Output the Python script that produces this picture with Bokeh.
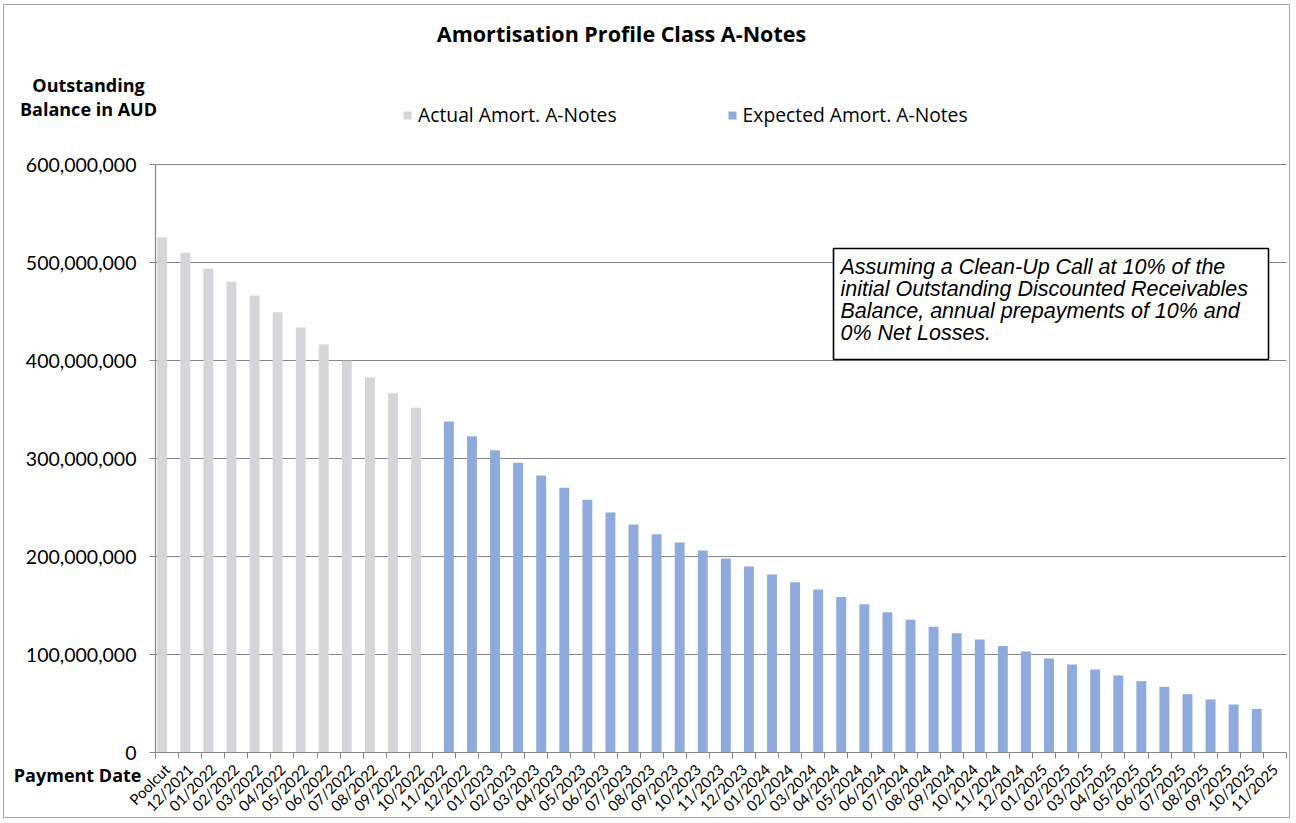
import math
from bokeh.plotting import figure
from bokeh.models import (Range1d, FixedTicker, NumeralTickFormatter, CustomJSTickFormatter,
                          Legend, LegendItem, Label, BoxAnnotation, ColumnDataSource)
from bokeh.transform import dodge
from bokeh.embed import file_html
from bokeh.resources import INLINE

# ---------------- data ----------------
dates = ["Poolcut", "12/2021",
         "01/2022", "02/2022", "03/2022", "04/2022", "05/2022", "06/2022",
         "07/2022", "08/2022", "09/2022", "10/2022", "11/2022", "12/2022",
         "01/2023", "02/2023", "03/2023", "04/2023", "05/2023", "06/2023",
         "07/2023", "08/2023", "09/2023", "10/2023", "11/2023", "12/2023",
         "01/2024", "02/2024", "03/2024", "04/2024", "05/2024", "06/2024",
         "07/2024", "08/2024", "09/2024", "10/2024", "11/2024", "12/2024",
         "01/2025", "02/2025", "03/2025", "04/2025", "05/2025", "06/2025",
         "07/2025", "08/2025", "09/2025", "10/2025", "11/2025"]

actual_dates = dates[0:12]
actual_values = [525.8e6, 509.9e6, 493.9e6, 480.3e6, 466.3e6, 449.3e6,
                 433.7e6, 416.3e6, 399.7e6, 382.7e6, 366.7e6, 351.7e6]

expected_dates = dates[12:48]
expected_values = [337.8e6, 322.8e6, 308.5e6, 295.6e6, 282.7e6, 270.1e6,
                   257.8e6, 244.9e6, 232.7e6, 222.8e6, 214.3e6, 206.1e6,
                   198.0e6, 189.8e6, 181.6e6, 173.8e6, 166.3e6, 158.8e6,
                   151.3e6, 143.2e6, 135.4e6, 128.2e6, 121.8e6, 115.3e6,
                   108.8e6, 103.1e6, 95.9e6, 89.8e6, 84.7e6, 78.6e6,
                   72.8e6, 67.0e6, 59.5e6, 54.1e6, 49.0e6, 44.5e6]

y_ticks = [0, 100e6, 200e6, 300e6, 400e6, 500e6, 600e6]

title_text = "Amortisation Profile Class A-Notes"
note_lines = ["Assuming a Clean-Up Call at 10% of the",
              "initial Outstanding Discounted Receivables",
              "Balance, annual prepayments of 10% and",
              "0% Net Losses."]

# ---------------- layout helpers ----------------
# The frame covers the whole canvas; the axes are pinned with fixed_location,
# so that title, captions and legend can all sit inside the (unclipped) frame.
PLOT_L, PLOT_R, PLOT_T, PLOT_B = 155, 1286, 164, 752   # page pixels of the plot area
OX, OY = 4, 5                                          # page position of the figure
W, H = 1287, 814
N = len(dates)
YMAX = 600e6


def px2x(px):
    return (px - PLOT_L) / (PLOT_R - PLOT_L) * N


def py2y(py):
    return (PLOT_B - py) / (PLOT_B - PLOT_T) * YMAX


pos = {d: i + 0.5 for i, d in enumerate(dates)}
src_a = ColumnDataSource(dict(x=[pos[d] for d in actual_dates], top=actual_values))
src_e = ColumnDataSource(dict(x=[pos[d] for d in expected_dates], top=expected_values))

p = figure(width=W, height=H, output_backend="svg", toolbar_location=None,
           x_range=Range1d(px2x(OX), px2x(OX + W)), y_range=Range1d(py2y(OY + H), py2y(OY)),
           min_border_left=0, min_border_right=0, min_border_top=0, min_border_bottom=0)
p.outline_line_color = None
p.background_fill_color = "white"
p.border_fill_color = "white"
p.xgrid.visible = False
p.ygrid.visible = False

GRAY = "#D5D6DA"
BLUE = "#8FAADC"
AX = "#868686"
FONT = "Open Sans"

# horizontal gridlines across the plot area only
p.segment(x0=0, x1=N, y0=y_ticks, y1=y_ticks, line_color=AX, line_width=1.2, level="underlay")

ra = p.vbar(x=dodge("x", -0.21, range=p.x_range), top="top", width=0.43, bottom=0,
            source=src_a, fill_color=GRAY, line_color=None)
re = p.vbar(x=dodge("x", 0.21, range=p.x_range), top="top", width=0.43, bottom=0,
            source=src_e, fill_color=BLUE, line_color=None)

# y axis
ya = p.yaxis[0]
ya.fixed_location = 0
ya.bounds = (0, YMAX)
ya.ticker = FixedTicker(ticks=y_ticks)
ya.formatter = NumeralTickFormatter(format="0,0")
ya.axis_line_color = AX
ya.axis_line_width = 1.2
ya.major_tick_line_color = AX
ya.major_tick_out = 6
ya.major_tick_in = 0
ya.minor_tick_line_color = None
ya.major_label_text_font = "Lato"
ya.major_label_text_font_size = "19.5px"
ya.major_label_text_color = "#000000"
ya.major_label_standoff = 13

# x axis
xa = p.xaxis[0]
xa.fixed_location = 0
xa.bounds = (0, N)
xa.ticker = FixedTicker(ticks=[i + 0.5 for i in range(N)], minor_ticks=list(range(N + 1)))
xa.formatter = CustomJSTickFormatter(args=dict(labels=dates),
                                     code="const i = Math.floor(tick); return (i >= 0 && i < labels.length) ? labels[i] : '';")
xa.axis_line_color = AX
xa.axis_line_width = 1.2
xa.major_tick_line_color = None
xa.major_tick_out = 0
xa.major_tick_in = 0
xa.minor_tick_line_color = AX
xa.minor_tick_out = 6
xa.minor_tick_in = 0
xa.major_label_orientation = math.pi / 4
xa.major_label_text_font = "Lato"
xa.major_label_text_font_size = "15px"
xa.major_label_text_color = "#000000"
xa.major_label_standoff = 8

# legend
legend = Legend(items=[LegendItem(label="Actual Amort. A-Notes", renderers=[ra]),
                       LegendItem(label="Expected Amort. A-Notes", renderers=[re])],
                orientation="horizontal", location=(402 - OX, OY + H - 128),
                glyph_width=10, glyph_height=10, label_standoff=6, spacing=110,
                padding=0, margin=0, border_line_color=None, background_fill_alpha=0,
                label_text_font=FONT, label_text_font_size="19.3px", label_text_color="#000000")
p.add_layout(legend, "center")


def caption(text, px, py, align, size, style="bold", font=FONT):
    return Label(x=px2x(px), y=py2y(py), text=text, text_align=align,
                 text_baseline="middle", text_font=font, text_font_style=style,
                 text_font_size=size, text_color="#000000")


p.add_layout(caption(title_text, 621, 33, "center", "21.5px"))
p.add_layout(caption("Outstanding", 88, 84, "center", "18px"))
p.add_layout(caption("Balance in AUD", 88, 108, "center", "18px"))
p.add_layout(caption("Payment Date", 141, 774, "right", "18px"))

# note box
p.add_layout(BoxAnnotation(left=px2x(833), right=px2x(1268), top=py2y(248), bottom=py2y(359),
                           fill_color="white", fill_alpha=1.0, line_color="black",
                           line_alpha=1.0, line_width=1.6, level="annotation"))
for k, line in enumerate(note_lines):
    p.add_layout(caption(line, 840, 266 + 22 * k, "left", "21.5px",
                         style="italic", font="Liberation Sans"))

p.styles = {"border": "1px solid #A6A6A6", "margin-left": f"{OX - 1}px", "margin-top": f"{OY - 1}px"}

open("out.html", "w").write(file_html(p, INLINE))
